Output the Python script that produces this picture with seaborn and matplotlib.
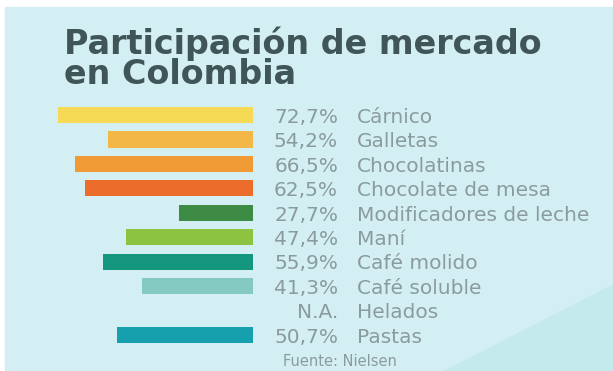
import matplotlib
matplotlib.use("Agg")
import numpy as np
import pandas as pd
import seaborn as sns
import matplotlib.pyplot as plt
from matplotlib.patches import Rectangle, Polygon
from matplotlib.transforms import blended_transform_factory

# Market share by category (Helados has no data)
categorias = ["Cárnico", "Galletas", "Chocolatinas", "Chocolate de mesa",
              "Modificadores de leche", "Maní", "Café molido", "Café soluble",
              "Helados", "Pastas"]
participacion = [72.7, 54.2, 66.5, 62.5, 27.7, 47.4, 55.9, 41.3, np.nan, 50.7]
etiquetas = ["72,7%", "54,2%", "66,5%", "62,5%", "27,7%", "47,4%", "55,9%",
             "41,3%", "N.A.", "50,7%"]
colores = ["#f6da55", "#f2b746", "#ef9a34", "#ec6c2c", "#3e8b45", "#8cc341",
           "#15977f", "#84cac3", "#9ed8dc", "#16a0ad"]

W, H = 613, 371
sns.set_theme(style="white")
plt.rcParams["font.family"] = ["DejaVu Sans"]

fig = plt.figure(figsize=(W / 100, H / 100), dpi=100)
fig.patch.set_facecolor("white")

# Panel background with a slightly darker lower-right wedge
fig.patches.append(Rectangle((5 / W, 0), 1 - 5 / W, 1 - 7 / H,
                             transform=fig.transFigure, color="#d4eff3",
                             zorder=-2))
wedge = [(445, 371), (613, 285), (613, 371)]
fig.patches.append(Polygon([(x / W, 1 - y / H) for x, y in wedge],
                           closed=True, transform=fig.transFigure,
                           color="#c4eaee", zorder=-1))

df = pd.DataFrame({"categoria": categorias, "valor": participacion})

row_px = 24.44
top_px = 115 - 0.5 * row_px
ax_h = 10 * row_px
ax = fig.add_axes([0, 1 - (top_px + ax_h) / H, 253 / W, ax_h / H])
ax.set_facecolor("none")

sns.barplot(data=df, x="valor", y="categoria", hue="categoria",
            order=categorias, hue_order=categorias, palette=colores,
            legend=False, errorbar=None, width=0.66, saturation=1,
            orient="h", linewidth=0, ax=ax)

ax.set_xlim(253 / 2.68, 0)
ax.set_ylim(9.5, -0.5)
ax.axis("off")

label_color = "#8a9b9d"
tr = blended_transform_factory(fig.transFigure, ax.transData)
for i, (pct, cat) in enumerate(zip(etiquetas, categorias)):
    ax.text(338 / W, i + 0.32, pct, transform=tr, ha="right", va="baseline",
            fontsize=14.5, color=label_color, clip_on=False)
    ax.text(357 / W, i + 0.32, cat, transform=tr, ha="left", va="baseline",
            fontsize=14.5, color=label_color, clip_on=False)

title_kw = dict(ha="left", va="baseline", fontsize=24, fontweight="bold",
                color="#3f5558")
fig.text(64 / W, 1 - 54 / H, "Participación de mercado", **title_kw)
fig.text(64 / W, 1 - 84 / H, "en Colombia", **title_kw)

fig.text(283 / W, 1 - 362 / H, "Fuente: Nielsen", ha="left", va="center",
         fontsize=10.5, color=label_color)

fig.savefig("out.png", dpi=100)
